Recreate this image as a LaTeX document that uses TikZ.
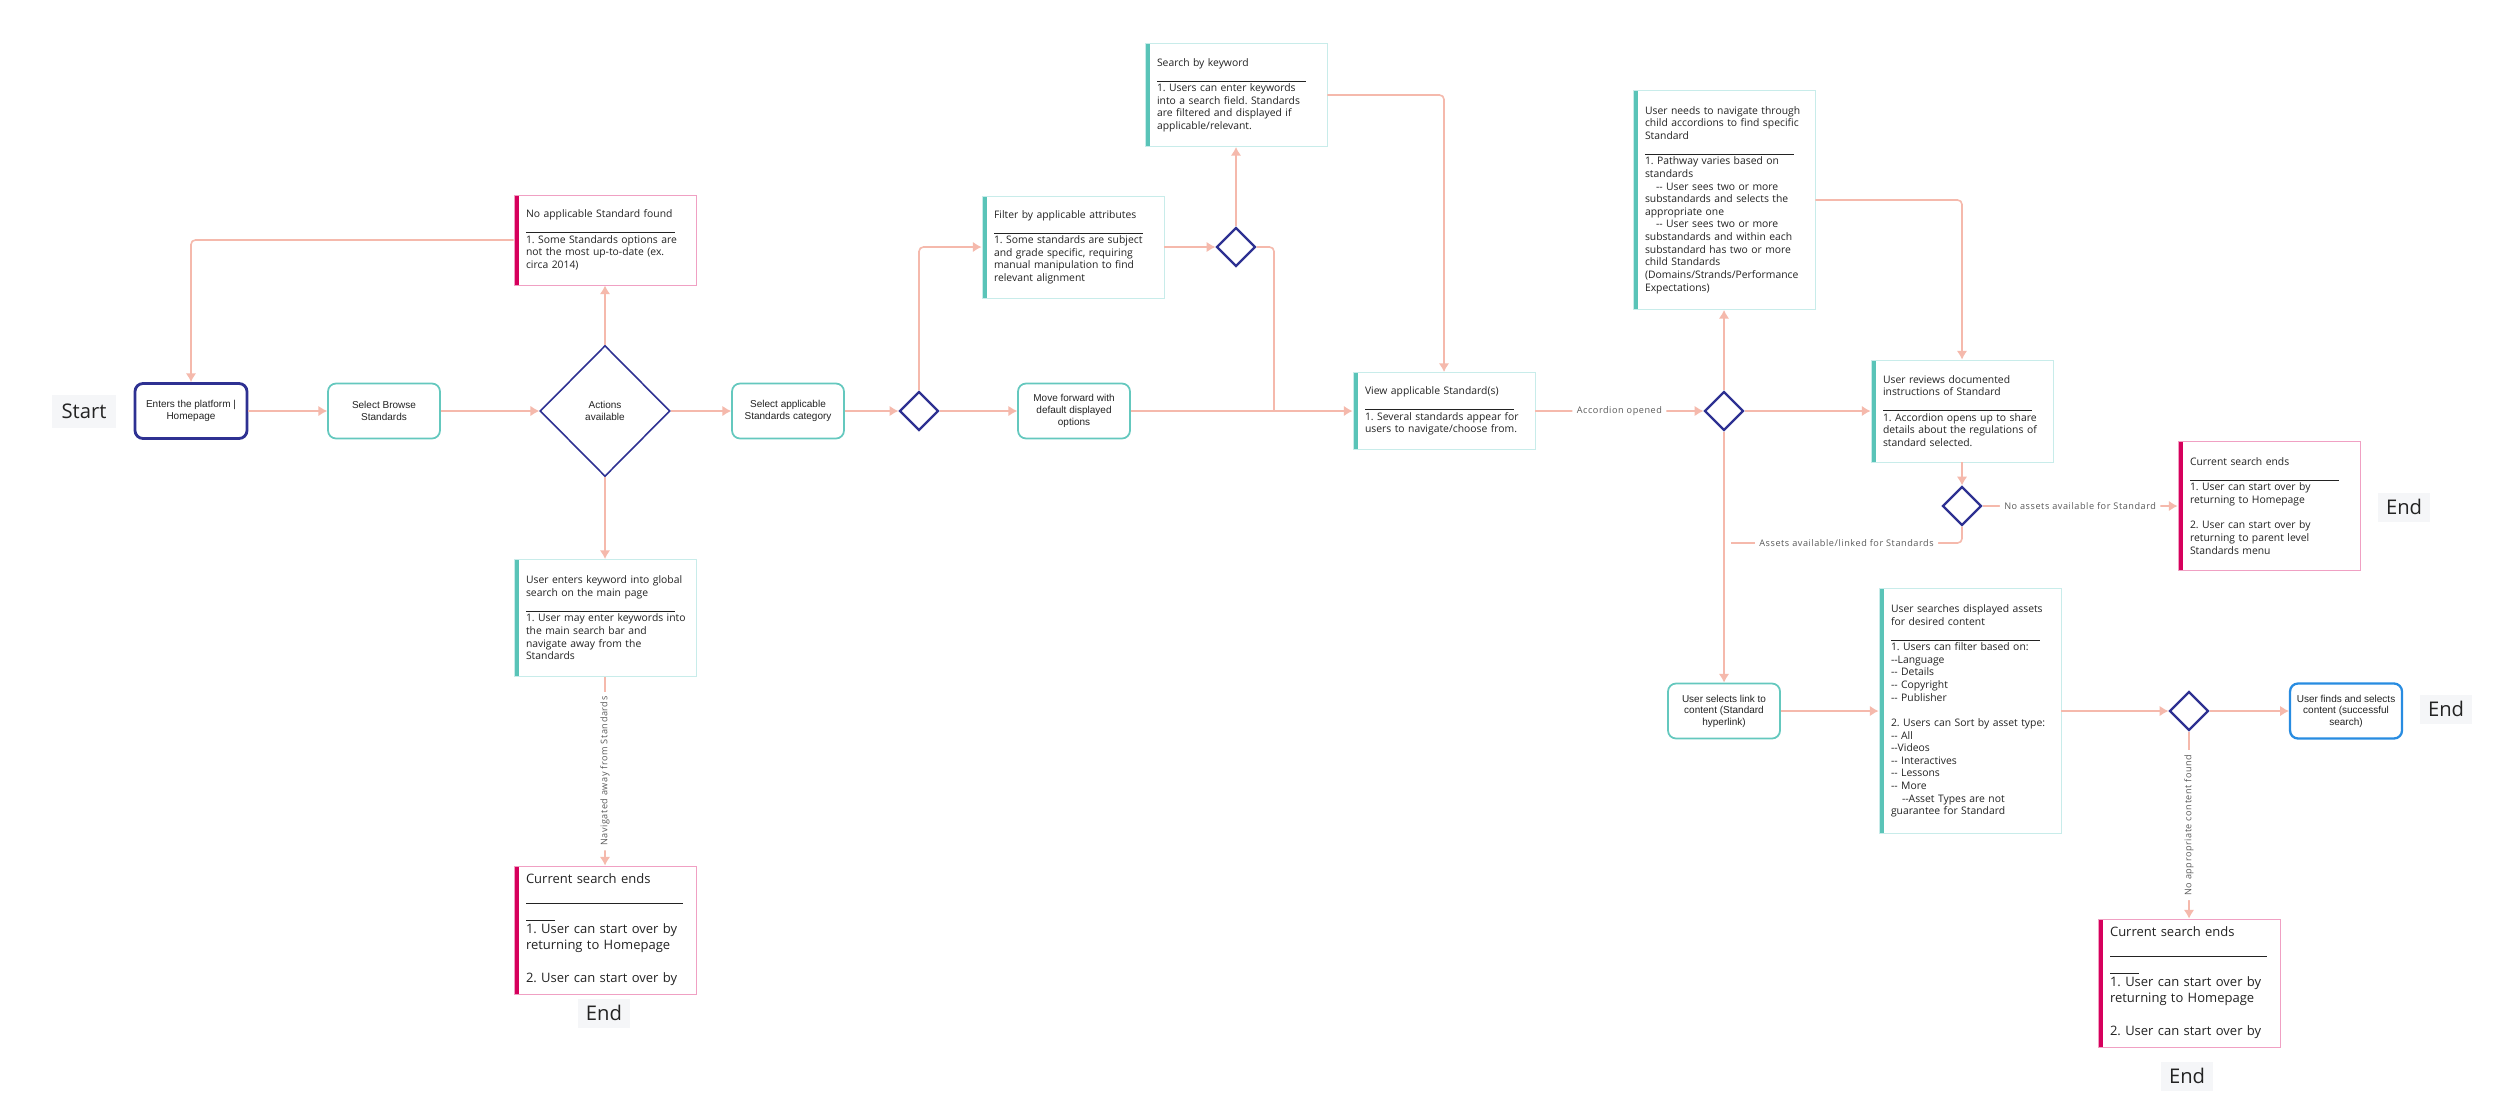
\documentclass[tikz,border=0pt]{standalone}
\usepackage{fontspec}
\usetikzlibrary{shapes.geometric,arrows.meta}
\newfontfamily\notefont{Open Sans}
\newfontfamily\boxfont{Liberation Sans}
\newfontfamily\labelfont{Open Sans}[LetterSpace=6]
\definecolor{linkc}{RGB}{245,185,172}
\definecolor{navyc}{RGB}{46,49,146}
\definecolor{tealc}{RGB}{100,200,190}
\definecolor{tealbar}{RGB}{90,196,184}
\definecolor{tealline}{RGB}{200,236,234}
\definecolor{pinkbar}{RGB}{214,0,92}
\definecolor{pinkline}{RGB}{240,160,195}
\definecolor{bluec}{RGB}{40,140,225}
\definecolor{textc}{RGB}{35,35,35}
\definecolor{labelc}{RGB}{90,90,90}
\definecolor{startbg}{RGB}{245,246,248}
\newcommand{\noterule}[1][2.98cm]{\rule[-0.27em]{#1}{0.5pt}}
\newcommand{\twodash}{\mbox{-}\mbox{-}}
\frenchspacing

\begin{document}
\begin{tikzpicture}[x=0.02cm,y=-0.02cm,
  >={Latex[length=5pt,width=6pt]},
  text=textc,
  link/.style={draw=linkc,line width=0.9pt,rounded corners=2.5pt},
  stepbox/.style={rectangle,rounded corners=0.16cm,draw=tealc,line width=1pt,fill=white,minimum width=2.24cm,minimum height=1.1cm,align=center,inner sep=1pt,font=\boxfont\fontsize{5.7}{6.6}\selectfont},
  entrybox/.style={stepbox,draw=navyc,line width=1.6pt},
  donebox/.style={stepbox,draw=bluec,line width=1.3pt},
  choice/.style={diamond,draw=navyc,line width=1.3pt,fill=white,minimum width=0.78cm,minimum height=0.78cm,inner sep=0pt,aspect=1},
  bigchoice/.style={choice,line width=0.9pt,minimum width=2.6cm,minimum height=2.62cm,align=center,font=\boxfont\fontsize{5.7}{6.6}\selectfont},
  note/.style={rectangle,line width=0.5pt,fill=white,text width=3.36cm,inner xsep=0.14cm,inner ysep=0pt,align=left,font=\notefont\fontsize{5.9}{7.2}\selectfont,execute at begin node={\leftskip=0.1cm}},
  accentbar/.style={path picture={\fill[#1] (path picture bounding box.north west) rectangle ([xshift=0.1cm]path picture bounding box.south west);}},
  tealnote/.style={note,draw=tealline,accentbar=tealbar},
  pinknote/.style={note,draw=pinkline,accentbar=pinkbar},
  bignote/.style={pinknote,font=\notefont\fontsize{7.4}{9.4}\selectfont},
  endlabel/.style={fill=startbg,font=\notefont\fontsize{11.5}{13}\selectfont,inner sep=0pt,minimum width=1.04cm,minimum height=0.58cm},
  elabel/.style={fill=white,inner xsep=2.5pt,inner ysep=1pt,text=labelc,font=\labelfont\fontsize{5.2}{6}\selectfont}]

\useasboundingbox (0,0) rectangle (2500,1119);
\fill[white] (0,0) rectangle (2500,1119);

\node[endlabel,minimum width=1.3cm,minimum height=0.66cm] (start) at (84,411) {Start};
\node[entrybox] (enter) at (191,411) {Enters the platform |\\Homepage};
\node[stepbox] (browse) at (384,411) {Select Browse\\Standards};
\node[bigchoice] (actions) at (605,411) {Actions\\available};
\node[pinknote,minimum height=1.8cm] (nofound) at (605,240) {No applicable Standard found\\\noterule\\1. Some Standards options are\\not the most up-to-date (ex.\\circa 2014)};
\node[tealnote,minimum height=2.34cm] (globalsearch) at (605,618) {User enters keyword into global\\search on the main page\\\noterule\\1. User may enter keywords into\\the main search bar and\\navigate away from the\\Standards};
\node[bignote,minimum height=2.56cm] (endleft) at (605,930) {Current search ends\\\noterule[3.14cm]\\\noterule[0.58cm]\\1. User can start over by\\returning to Homepage\\[9.4pt]2. User can start over by};
\node[endlabel] (endA) at (604,1013) {End};

\node[stepbox] (category) at (788,411) {Select applicable\\Standards category};
\node[choice] (split) at (919,411) {};
\node[tealnote,minimum height=2.04cm] (filter) at (1073,247) {Filter by applicable attributes\\\noterule\\1. Some standards are subject\\and grade specific, requiring\\manual manipulation to find\\relevant alignment};
\node[stepbox] (forward) at (1074,411) {Move forward with\\default displayed\\options};
\node[choice] (refine) at (1236,247) {};
\node[tealnote,minimum height=2.06cm] (keyword) at (1236,95) {Search by keyword\\\noterule\\1. Users can enter keywords\\into a search field. Standards\\are filtered and displayed if\\applicable/relevant.};
\coordinate (merge) at (1274,411);
\node[tealnote,minimum height=1.54cm] (view) at (1444,411) {View applicable Standard(s)\\\noterule\\1. Several standards appear for\\users to navigate/choose from.};

\node[choice] (accordion) at (1724,411) {};
\node[tealnote,minimum height=4.38cm] (child) at (1724,200) {User needs to navigate through\\child accordions to find specific\\Standard\\\noterule\\1. Pathway varies based on\\standards\\\hspace*{0.22cm}\twodash{} User sees two or more\\substandards and selects the\\appropriate one\\\hspace*{0.22cm}\twodash{} User sees two or more\\substandards and within each\\substandard has two or more\\child Standards\\(Domains/Strands/Performance\\Expectations)};
\node[tealnote,minimum height=2.04cm] (review) at (1962,411) {User reviews documented\\instructions of Standard\\\noterule\\1. Accordion opens up to share\\details about the regulations of\\standard selected.};
\node[choice] (assets) at (1962,506) {};
\node[pinknote,minimum height=2.58cm] (endright) at (2269,506) {Current search ends\\\noterule\\1. User can start over by\\returning to Homepage\\[7.2pt]2. User can start over by\\returning to parent level\\Standards menu};
\node[endlabel] (endB) at (2404,507) {End};
\coordinate (back) at (1731,543);

\node[stepbox] (link) at (1724,711) {User selects link to\\content (Standard\\hyperlink)};
\node[tealnote,minimum height=4.9cm] (browseassets) at (1970,711) {User searches displayed assets\\for desired content\\\noterule\\1. Users can filter based on:\\\twodash Language\\\twodash{} Details\\\twodash{} Copyright\\\twodash{} Publisher\\[7.2pt]2. Users can Sort by asset type:\\\twodash{} All\\\twodash Videos\\\twodash{} Interactives\\\twodash{} Lessons\\\twodash{} More\\\hspace*{0.22cm}\twodash Asset Types are not\\guarantee for Standard};
\node[choice] (found) at (2189,711) {};
\node[donebox] (success) at (2346,711) {User finds and selects\\content (successful\\search)};
\node[endlabel] (endC) at (2446,709) {End};
\node[bignote,minimum height=2.56cm] (endbottom) at (2189,983) {Current search ends\\\noterule[3.14cm]\\\noterule[0.58cm]\\1. User can start over by\\returning to Homepage\\[9.4pt]2. User can start over by};
\node[endlabel] (endD) at (2187,1076) {End};

\draw[link,->] (enter) -- (browse);
\draw[link,->] (browse) -- (actions);
\draw[link,->] (actions) -- (nofound);
\draw[link,->] (nofound.west) -| (enter.north);
\draw[link,->] (actions) -- (globalsearch);
\draw[link,->] (globalsearch) -- node[elabel,rotate=90]{Navigated away from Standards} (endleft);
\draw[link,->] (actions) -- (category);
\draw[link,->] (category) -- (split);
\draw[link,->] (split.north) |- (filter.west);
\draw[link,->] (split) -- (forward);
\draw[link,->] (filter) -- (refine);
\draw[link,->] (refine) -- (keyword);
\draw[link] (refine.east) -| (merge);
\draw[link,->] (forward) -- (view);
\draw[link,->] (keyword.east) -| (view.north);
\draw[link,->] (view) -- node[elabel]{Accordion opened} (accordion);
\draw[link,->] (accordion) -- (child);
\draw[link,->] (child.east) -| (review.north);
\draw[link,->] (accordion) -- (review);
\draw[link,->] (review) -- (assets);
\draw[link,->] (assets) -- node[elabel]{No assets available for Standard} (endright);
\draw[link] (assets.south) |- node[elabel,pos=0.75]{Assets available/linked for Standards} (back);
\draw[link,->] (accordion) -- (link);
\draw[link,->] (link) -- (browseassets);
\draw[link,->] (browseassets) -- (found);
\draw[link,->] (found) -- (success);
\draw[link,->] (found) -- node[elabel,rotate=90]{No appropriate content found} (endbottom);
\end{tikzpicture}
\end{document}
